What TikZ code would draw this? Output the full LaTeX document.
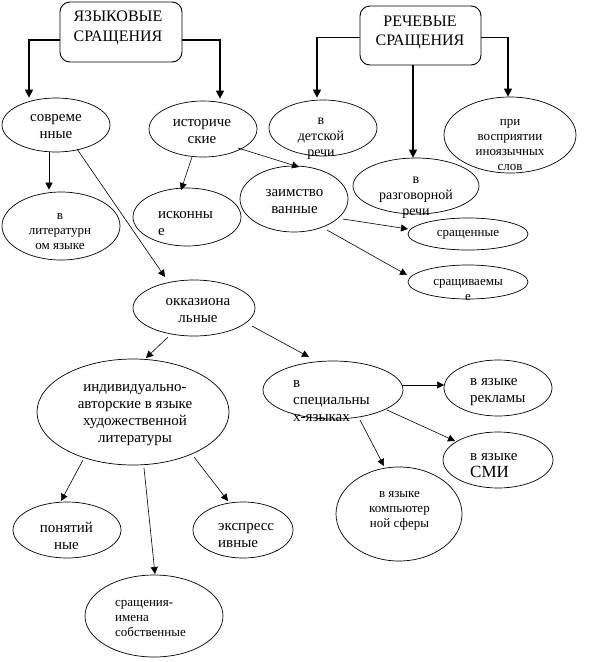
\documentclass[tikz,border=0pt]{standalone}
\usepackage{fontspec}
\setmainfont{Liberation Serif}
\usetikzlibrary{arrows.meta,shapes.geometric}
\begin{document}
\begin{tikzpicture}[x=1pt,y=-1pt,
  ell/.style={draw, ellipse, inner sep=0pt, line width=0.7pt},
  bx/.style={draw, rectangle, rounded corners=10pt, inner sep=0pt, line width=0.9pt},
  arr/.style={-{Triangle[length=7pt,width=7pt]}, line width=0.6pt},
  arrb/.style={-{Triangle[length=8pt,width=8pt]}, line width=1.1pt},
  tb/.style={font=\fontsize{16}{19.5}\selectfont, align=center, inner sep=0pt},
  tm/.style={font=\fontsize{15}{17}\selectfont, align=center, inner sep=0pt},
  tn/.style={font=\fontsize{14}{16}\selectfont, align=center, inner sep=0pt},
  ts/.style={font=\fontsize{13}{15}\selectfont, align=center, inner sep=0pt},
  tml/.style={tm, align=left, anchor=west},
  tsl/.style={ts, align=left, anchor=west}
]
\useasboundingbox (0,0) rectangle (594,662);
\fill[white] (0,0) rectangle (594,662);

% boxes
\node[bx, minimum width=122pt, minimum height=60pt] (lang) at (121,32) {};
\node[bx, minimum width=121pt, minimum height=59pt] (speech) at (420.5,35.5) {};
\node[tb] (tlang) at (118,28) {ЯЗЫКОВЫЕ\\СРАЩЕНИЯ};
\node[tb] (tspeech) at (420,32.5) {РЕЧЕВЫЕ\\СРАЩЕНИЯ};

% ellipses
\node[ell, minimum width=108pt, minimum height=54pt] (sov) at (56,125) {};
\node[ell, minimum width=108pt, minimum height=56pt] (hist) at (203,129) {};
\node[ell, minimum width=108pt, minimum height=56pt] (det) at (323,128) {};
\node[ell, minimum width=132pt, minimum height=76pt] (perc) at (510,135) {};
\node[ell, minimum width=126pt, minimum height=56pt] (razg) at (416,186) {};
\node[ell, minimum width=108pt, minimum height=66pt] (zaim) at (294,199) {};
\node[ell, minimum width=120pt, minimum height=32pt] (srn) at (468,234) {};
\node[ell, minimum width=120pt, minimum height=34pt] (srv) at (468,282) {};
\node[ell, minimum width=118pt, minimum height=68pt] (lit) at (61,226) {};
\node[ell, minimum width=108pt, minimum height=58pt] (isk) at (187,217) {};
\node[ell, minimum width=122pt, minimum height=56pt] (okk) at (194,308) {};
\node[ell, minimum width=192pt, minimum height=106pt] (ind) at (133,412) {};
\node[ell, minimum width=140pt, minimum height=58pt] (spec) at (333,390) {};
\node[ell, minimum width=108pt, minimum height=56pt] (rekl) at (498,388) {};
\node[ell, minimum width=110pt, minimum height=56pt] (smi) at (498,460) {};
\node[ell, minimum width=126pt, minimum height=94pt] (komp) at (399,514) {};
\node[ell, minimum width=108pt, minimum height=56pt] (pon) at (67,530) {};
\node[ell, minimum width=100pt, minimum height=56pt] (expr) at (243,530) {};
\node[ell, minimum width=138pt, minimum height=82pt] (imena) at (154,616) {};

% texts
\node[tm] (tsov) at (56,127) {совреме\\нные};
\node[tm] (thist) at (202,131.5) {историче\\ские};
\node[tn] (tdet) at (321,139) {в\\детской\\речи};
\node[ts] (tperc) at (510,144.5) {при\\восприятии\\иноязычных\\слов};
\node[tn] (trazg) at (416,197.5) {в\\разговорной\\речи};
\node[tm] (tzaim) at (294.5,201.5) {заимство\\ванные};
\node[ts] (tsrn) at (468,235) {сращенные};
\node[ts] (tsrv) at (468,290) {сращиваемы\\е};
\node[ts] (tlit) at (60,232) {в\\литературн\\ом языке};
\node[tml] (tisk) at (158,223.5) {исконны\\е};
\node[tm] (tokk) at (198,310.5) {окказиона\\льные};
\node[tm] (tind) at (135,415) {индивидуально-\\авторские в языке\\художественной\\литературы};
\node[tml] (tspec) at (293,401) {в\\специальны\\х-языках};
\node[tml] (trekl) at (470,392) {в языке\\рекламы};
\node[tml] (tsmi) at (470,466) {в языке\\{\fontsize{17}{19}\selectfont СМИ}};
\node[ts] (tkomp) at (399.5,511) {в языке\\компьютер\\ной сферы};
\node[tm] (tpon) at (66.5,535.5) {понятий\\ные};
\node[tml] (texpr) at (218,535.5) {экспресс\\ивные};
\node[tsl] (timena) at (115,618) {сращения-\\имена\\собственные};

% top connectors
\draw[arrb] ([shift={(0,8)}]lang.west) -| ([shift={(-27,0)}]sov.north);
\draw[arrb] ([shift={(0,8)}]lang.east) -| ([shift={(17,-2)}]hist.north);
\draw[arrb] ([shift={(0,2)}]speech.west) -| ([shift={(-6,-2)}]det.north);
\draw[arrb] ([shift={(-7.5,0)}]speech.south) -- ([shift={(-3,0)}]razg.north);
\draw[arrb] ([shift={(0,2)}]speech.east) -| ([shift={(-2,0)}]perc.north);

% other connectors
\draw[arr] ([shift={(21,24)}]sov.center) -- ([shift={(-29,-31)}]okk.center);
\draw[arr] ([shift={(-7,0)}]sov.south) -- ([shift={(-12,-2)}]lit.north);
\draw[arr] ([shift={(-11,28)}]hist.center) -- ([shift={(-6,-27)}]isk.center);
\draw[arr] ([shift={(35,19)}]hist.center) -- ([shift={(5,-32)}]zaim.center);
\draw[arr] ([shift={(49,20)}]zaim.center) -- ([shift={(-60,-5)}]srn.center);
\draw[arr] ([shift={(33,31)}]zaim.center) -- ([shift={(-61,-7)}]srv.center);
\draw[arr] ([shift={(-26,29)}]okk.center) -- ([shift={(13,-54)}]ind.center);
\draw[arr] ([shift={(58,18)}]okk.center) -- ([shift={(-24,-33)}]spec.center);
\draw[arr] ([shift={(69,-5)}]spec.center) -- ([shift={(-54,-3)}]rekl.center);
\draw[arr] ([shift={(54,20)}]spec.center) -- ([shift={(-43,-19)}]smi.center);
\draw[arr] ([shift={(27,30)}]spec.center) -- ([shift={(-15,-48)}]komp.center);
\draw[arr] ([shift={(-50,48)}]ind.center) -- ([shift={(-6,-29)}]pon.center);
\draw[arr] ([shift={(11,56)}]ind.center) -- ([shift={(1,-42)}]imena.center);
\draw[arr] ([shift={(61,45)}]ind.center) -- ([shift={(-15,-29)}]expr.center);
\end{tikzpicture}
\end{document}
